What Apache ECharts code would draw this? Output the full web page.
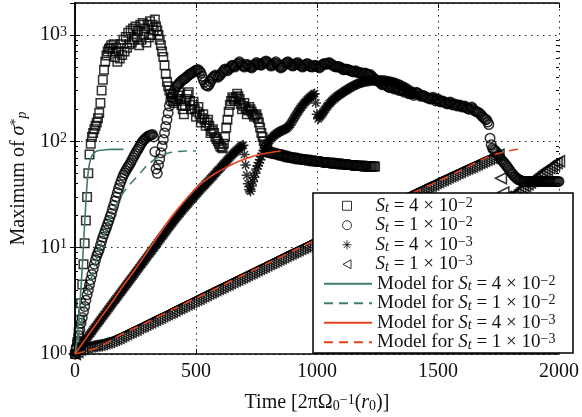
<!DOCTYPE html>
<html>
<head>
<meta charset="utf-8">
<script src="https://cdn.jsdelivr.net/npm/echarts@6/dist/echarts.min.js"></script>
<style>
  html, body { margin: 0; padding: 0; background: #fff; }
  #chart { width: 582px; height: 417px; }
</style>
</head>
<body>
<div id="chart"></div>
<script>
// sampling grid of each run: start, step, count
function steps(t0, dt, n) { const out = []; for (let i = 0; i < n; i++) out.push(t0 + i * dt); return out; }

// St = 4e-2 (squares), t = 0..1240 every 5
const sqT = steps(0, 5, 249);
const sqV = [
  1,1.1,1.3,1.6,2.1,3.0,4.5,7,11,18,30,50,75,95,110,120,130,140,150,165,
  185,230,300,380,470,560,640,700,740,760,800,700,820,620,760,560,700,600,820,650,
  900,700,960,760,1050,820,1100,850,1150,900,1200,950,1100,800,1250,900,1300,1000,1150,850,
  1250,950,1350,1000,1250,1100,1400,1200,1100,1000,900,800,700,620,520,430,363,330,300,280,
  260,240,230,240,250,270,290,250,220,200,180,215,250,275,290,240,200,220,236,200,
  170,190,210,180,150,165,180,160,140,150,160,140,120,125,130,120,110,105,100,95,
  90,88,86,95,110,135,160,190,220,240,260,250,240,260,280,265,250,225,200,215,
  230,205,180,195,210,200,190,180,170,175,180,165,150,135,120,110,100,94,88,84,
  80,79,78,78,77,77,76,76,75,75,74,74,73,73,72,72,71,71,71,70,
  70,70,69,69,69,68,68,68,68,67,67,67,67,66,66,66,66,65,65,65,
  65,65,64,64,64,64,64,63,63,63,63,63,63,62,62,62,62,62,62,61,
  61,61,61,61,61,60,60,60,60,60,60,59,59,59,59,59,59,59,59,58,
  58,58,58,58,58,58,58,58,58];

// St = 1e-2 (circles), t = 0..2000 every 5
const ciT = steps(0, 5, 401);
const ciV = [
  1,1.15,1.3,1.5,1.7,1.95,2.2,2.5,2.8,3.2,3.6,4.0,4.5,5.0,5.6,6.3,7,7.7,8.4,9.0,
  9.6,10.5,11.5,12.5,13.5,14.5,15.5,16.7,18,19.5,21,23,25,27.5,30,33,36,39,42,45,
  48,50.5,53,55.5,58,60.5,63,66.5,70,73.5,77,80.5,84,88,92,96,100,103,106,108.5,
  111,112.5,114,115,116,110,80,55,50,60,68,78,90,104,120,138,160,185,215,238,
  260,280,300,315,330,340,350,360,370,378,385,392,400,410,420,428,435,442,450,458,
  465,470,470,455,440,410,380,360,340,335,330,345,365,385,400,410,420,410,400,410,
  420,435,450,465,480,470,460,475,490,505,520,510,500,515,530,545,560,540,520,510,
  500,515,530,520,510,500,490,505,520,535,550,540,530,525,520,535,550,560,570,555,
  540,525,510,520,530,545,560,540,520,505,490,500,510,525,540,550,560,545,530,520,
  510,520,530,540,550,535,520,510,500,510,520,530,540,525,510,505,500,510,520,515,
  510,500,490,505,520,530,540,535,530,540,550,540,530,520,510,505,500,502,505,498,
  490,480,470,475,480,475,470,465,460,455,450,455,460,450,440,442,445,438,430,435,
  440,430,420,422,425,412,400,390,380,375,370,365,360,350,340,345,350,340,330,325,
  320,325,330,320,310,315,320,310,300,305,310,300,290,295,300,290,280,282,285,278,
  270,280,290,285,280,272,265,268,270,265,260,258,255,252,250,255,260,250,240,245,
  250,242,235,238,240,235,230,228,225,230,235,228,220,222,225,220,215,218,220,215,
  210,212,215,210,205,202,200,205,210,202,195,192,190,188,185,180,175,170,165,162,
  160,152,144,107,93,86,84,82,80,77,74,71,68,66,64,62,60,58,56,54,
  52,50,49,47,46,45,44,43.5,43,42.5,42,42,42,42,42,42,42,42,42,42,
  42,42,42,42,42,42,42,42,42,42,42,42,42,42,42,42,42,42,42,42,
  42];

// St = 4e-3 (asterisks), t = 0..1400 every 5
const asT = steps(0, 5, 281);
const asV = [
  1,1.03,1.07,1.11,1.15,1.19,1.23,1.27,1.32,1.37,1.42,1.47,1.52,1.57,1.63,1.69,1.75,1.81,1.88,1.95,
  2.02,2.09,2.17,2.25,2.33,2.41,2.5,2.59,2.68,2.78,2.88,2.98,3.09,3.2,3.31,3.43,3.55,3.68,3.81,3.95,
  4.09,4.24,4.39,4.55,4.71,4.88,5.05,5.23,5.42,5.62,5.82,6.03,6.25,6.47,6.7,6.95,7.2,7.45,7.7,8.0,
  8.3,8.6,8.9,9.2,9.5,9.85,10.2,10.6,11,11.4,11.8,12.2,12.7,13.1,13.6,14.1,14.6,15.1,15.7,16.2,
  16.8,17.4,18,18.6,19.2,19.8,20.5,21.2,21.9,22.6,23.3,24,24.8,25.5,26.3,27.1,28,28.8,29.7,30.6,
  31.5,32.5,33.5,34.5,35.5,36.5,37.5,38.6,39.7,40.8,42,43.2,44.5,45.7,47,48.5,50,51.5,53,54.5,
  56,57.7,59.5,61.2,63,65,67,69,71,73,75,77,79,81,83,85,87,89,91,92,
  75,60,48,40,35,34,38,42,46,50,55,59,63,67,72,77,82,87,92,96,
  100,103,106,109,112,114.5,117,119,121,123,125,126.5,128,129.5,131,133,136,140,145,151,
  158,165,172,180,188,195,203,210,218,225,232,239,246,252,258,264,270,276,281,230,
  180,163,168,174,180,187,195,202,210,217,225,231,238,244,250,256,262,267,272,277,
  282,287,292,297,302,307,312,317,322,327,332,336,340,344,348,352,355,358,360,363,
  365,367,368,370,371,372,373,374,375,376,376,376,376,376,375,374,373,372,370,368,
  366,364,362,359,356,353,350,346,342,338,334,330,325,320,315,310,305,300,295,290,
  285];

// St = 1e-3 (triangles), t = 0..2000 every 10
const trT = steps(0, 10, 201);
const trV = [
  1,1.05,1.1,1.12,1.15,1.16,1.18,1.19,1.2,1.21,1.22,1.24,1.26,1.28,1.3,1.33,1.36,1.39,1.42,1.46,
  1.5,1.54,1.58,1.62,1.66,1.7,1.75,1.8,1.84,1.89,1.94,1.99,2.04,2.1,2.15,2.2,2.26,2.32,2.38,2.44,
  2.5,2.57,2.65,2.71,2.78,2.85,2.93,3.0,3.08,3.16,3.25,3.33,3.42,3.51,3.6,3.7,3.79,3.89,3.99,4.1,
  4.2,4.31,4.42,4.53,4.65,4.77,4.9,5.02,5.15,5.28,5.42,5.56,5.7,5.85,6.0,6.16,6.32,6.48,6.65,6.82,
  7.0,7.18,7.37,7.56,7.76,7.96,8.16,8.38,8.6,8.82,9.05,9.27,9.5,9.75,10,10.25,10.5,10.8,11.1,11.4,
  11.7,12,12.3,12.6,12.9,13.25,13.6,13.95,14.3,14.7,15.1,15.5,15.9,16.3,16.7,17.15,17.6,18.05,18.5,19,
  19.5,20,20.5,21,21.6,22.1,22.7,23.3,23.9,24.5,25.1,25.7,26.4,27.1,27.8,28.5,29.2,30,30.8,31.6,
  32.4,33.2,34,34.9,35.8,36.7,37.6,38.5,39.5,40.5,41.5,42.5,43.6,44.7,45.8,46.9,48,49.2,50.5,51.7,
  53,54.2,55.5,56.7,58,59.5,61,62.5,64,65.5,67,68.5,70,71.5,73,75,45,33,30,29,
  30,31,32,33.5,35,36.5,38,39.5,41,42.5,44,46,48,50,52,54,56,58,60,62.5,
  65];

// model curves
const mg4T = [0,10,20,30,40,50,60,70,80,90,100,120,150,200];
const mg4V = [1,1.5,2.9,6.5,17,40,62,73,78,81,82,83,84,84];
const mg1T = [0,25,50,75,100,125,150,175,200,225,250,275,300,340,380,420,460,500];
const mg1V = [1,1.9,3.6,6,9.5,14,20,26,33,39,45,52,60,70,77,80,81,81];
const mr4T = [0,50,100,150,200,250,300,350,400,450,500,550,600,650,700,750,800,850];
const mr4V = [1,1.45,2.1,3.0,4.4,6.3,9.2,13.5,19.5,27,36,45,53,61,68,74,78,81];
const mr1T = [0,50,100,150,200,300,400,500,600,700,800,900,1000,1100,1200,1300,1400,1500,1600,1650,1700,1750,1800,1840];
const mr1V = [1,1.07,1.16,1.35,1.56,2.0,2.6,3.35,4.3,5.6,7.2,9.3,12,15.5,20,26,33,42,54,62,70,77,82,85];

const yMinor = [2,3,4,5,6,7,8,9,20,30,40,50,60,70,80,90,200,300,400,500,600,700,800,900];

const FONT = 'Liberation Serif';
const GREEN = '#3f7f62';
const RED = '#e6421c';

function pairs(t, v) { return v.map((y, i) => [t[i], y]); }

function stLabel(m, e) {
  return '{i|S}{sb|t} = ' + m + ' × 10{sp|−' + e + '}';
}

const names = {
  sq: stLabel(4, 2), ci: stLabel(1, 2), as: stLabel(4, 3), tr: stLabel(1, 3),
  mg4: 'Model for ' + stLabel(4, 2), mg1: 'Model for ' + stLabel(1, 2),
  mr4: 'Model for ' + stLabel(4, 3), mr1: 'Model for ' + stLabel(1, 3)
};

const legendRich = {
  i: { fontStyle: 'italic', fontFamily: FONT, fontSize: 19 },
  sb: { fontStyle: 'italic', fontFamily: FONT, fontSize: 14, lineHeight: 9, verticalAlign: 'bottom' },
  sp: { fontFamily: FONT, fontSize: 14, lineHeight: 12, verticalAlign: 'top' },
  pad: { width: 19 }
};

const markerStyle = { color: 'rgba(0,0,0,0)', borderColor: '#000', borderWidth: 1.5 };

const chart = echarts.init(document.getElementById('chart'), null, { renderer: 'canvas' });

function logAxis(extra) {
  return Object.assign({
    type: 'log', logBase: 10, min: 1, max: 2000,
    axisLine: { show: true, lineStyle: { color: '#000', width: 1.5 } },
    axisTick: { show: true, inside: true, length: 5, lineStyle: { color: '#000' } },
    axisLabel: { show: false },
    splitLine: { show: false }
  }, extra);
}

chart.setOption({
  animation: false,
  backgroundColor: '#fff',
  textStyle: { fontFamily: FONT },
  grid: { left: 75, right: 23, top: 3, bottom: 63, outerBoundsMode: 'none', containLabel: false },
  xAxis: [
    {
      type: 'value', min: 0, max: 2000, interval: 500, position: 'bottom',
      name: 'Time [2π{u|Ω}{sb|0}{sp|−1}({i|r}{sb|0})]',
      nameLocation: 'middle', nameGap: 39,
      nameTextStyle: {
        fontFamily: FONT, fontSize: 20, color: '#111', lineHeight: 20,
        rich: {
          u: { fontFamily: FONT, fontSize: 20 },
          i: { fontFamily: FONT, fontSize: 20, fontStyle: 'italic' },
          sb: { fontFamily: FONT, fontSize: 14, lineHeight: 8, verticalAlign: 'bottom' },
          sp: { fontFamily: FONT, fontSize: 14, lineHeight: 10, verticalAlign: 'top' }
        }
      },
      axisLine: { lineStyle: { color: '#000', width: 1.5 } },
      axisTick: { inside: true, length: 5, lineStyle: { color: '#000' } },
      axisLabel: { fontFamily: FONT, fontSize: 20, color: '#111', margin: 8, formatter: v => String(v) },
      splitLine: { show: true, lineStyle: { color: '#222', width: 1, type: [1.5, 4.5] } }
    },
    {
      type: 'value', min: 0, max: 2000, interval: 500, position: 'top',
      axisLine: { lineStyle: { color: '#000', width: 1.5 } },
      axisTick: { inside: true, length: 5, lineStyle: { color: '#000' } },
      axisLabel: { show: false },
      splitLine: { show: false }
    }
  ],
  yAxis: [
    logAxis({
      position: 'left',
      name: 'Maximum of {i|σ}{sp|*}{sb|p}',
      nameLocation: 'middle', nameGap: 42, nameRotate: 90,
      nameTextStyle: {
        fontFamily: FONT, fontSize: 20, color: '#111', lineHeight: 20,
        rich: {
          i: { fontFamily: FONT, fontSize: 20, fontStyle: 'italic' },
          sp: { fontFamily: FONT, fontSize: 14, lineHeight: 10, verticalAlign: 'top' },
          sb: { fontFamily: FONT, fontSize: 14, fontStyle: 'italic', lineHeight: 8, verticalAlign: 'bottom' }
        }
      },
      axisLabel: {
        show: true, showMaxLabel: false, margin: 8,
        fontFamily: FONT, fontSize: 20, color: '#111', lineHeight: 20,
        formatter: v => '{b|10}{e|' + Math.round(Math.log10(v)) + '}',
        rich: {
          b: { fontFamily: FONT, fontSize: 20 },
          e: { fontFamily: FONT, fontSize: 14, lineHeight: 8, verticalAlign: 'top' }
        }
      },
      splitLine: { show: true, lineStyle: { color: '#222', width: 1, type: [1.5, 4.5] } }
    }),
    logAxis({ position: 'right' }),
    logAxis({ position: 'left', axisLine: { show: false },
      axisTick: { show: true, inside: true, length: 3, lineStyle: { color: '#000' }, customValues: yMinor } }),
    logAxis({ position: 'right', axisLine: { show: false },
      axisTick: { show: true, inside: true, length: 3, lineStyle: { color: '#000' }, customValues: yMinor } })
  ],
  graphic: [{
    type: 'rect', z: 10,
    shape: { x: 313, y: 193, width: 260, height: 160 },
    style: { fill: '#fff', stroke: '#000', lineWidth: 1.5 }
  }],
  legend: [
    {
      z: 20, selectedMode: false, orient: 'vertical', left: 342, top: 196, padding: 0,
      itemWidth: 9, itemHeight: 9, itemGap: 0,
      itemStyle: { borderWidth: 1 },
      data: ['sq', 'ci', 'as', 'tr'],
      formatter: n => '{pad| }' + names[n],
      textStyle: { fontFamily: FONT, fontSize: 19, color: '#111', lineHeight: 19.5, rich: legendRich }
    },
    {
      z: 20, selectedMode: false, orient: 'vertical', left: 323, top: 274, padding: 0,
      itemWidth: 48, itemHeight: 12, itemGap: 0,
      itemStyle: { opacity: 0 },
      data: ['mg4', 'mg1', 'mr4', 'mr1'],
      formatter: n => names[n],
      textStyle: { fontFamily: FONT, fontSize: 19, color: '#111', lineHeight: 19.5, rich: legendRich }
    }
  ],
  series: [
    { name: 'sq', type: 'scatter', symbol: 'rect', symbolSize: 8.5, itemStyle: markerStyle, data: pairs(sqT, sqV) },
    { name: 'ci', type: 'scatter', symbol: 'circle', symbolSize: 9.5, itemStyle: markerStyle, data: pairs(ciT, ciV) },
    { name: 'as', type: 'scatter', symbol: 'path://M-5,0L5,0M0,-5L0,5M-3.5,-3.5L3.5,3.5M-3.5,3.5L3.5,-3.5',
      symbolSize: 10.5, itemStyle: { color: '#000', borderColor: '#000', borderWidth: 1.5 }, data: pairs(asT, asV) },
    { name: 'tr', type: 'scatter', symbol: 'path://M-4,0L4,-4.5L4,4.5Z', symbolSize: 11, itemStyle: markerStyle, data: pairs(trT, trV) },
    { name: 'mg4', type: 'line', symbol: 'none', smooth: 0.3, lineStyle: { color: GREEN, width: 1.6 }, itemStyle: { color: GREEN }, data: pairs(mg4T, mg4V) },
    { name: 'mg1', type: 'line', symbol: 'none', smooth: 0.3, lineStyle: { color: GREEN, width: 1.6, type: [9, 6] }, itemStyle: { color: GREEN }, data: pairs(mg1T, mg1V) },
    { name: 'mr4', type: 'line', symbol: 'none', smooth: 0.3, lineStyle: { color: RED, width: 1.6 }, itemStyle: { color: RED }, data: pairs(mr4T, mr4V) },
    { name: 'mr1', type: 'line', symbol: 'none', smooth: 0.3, lineStyle: { color: RED, width: 1.6, type: [9, 6] }, itemStyle: { color: RED }, data: pairs(mr1T, mr1V) }
  ]
});
</script>
</body>
</html>
